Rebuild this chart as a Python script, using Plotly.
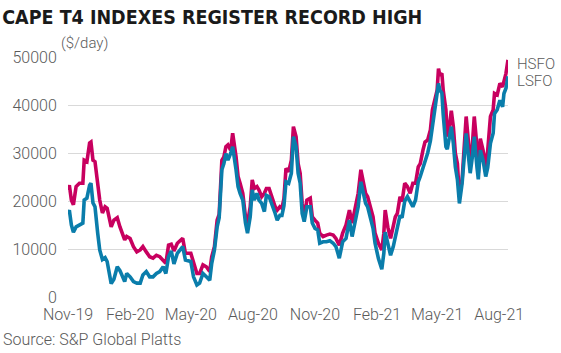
import plotly.graph_objects as go

# ---- data ----
dates = [
    "2019-11-01", "2019-11-03", "2019-11-06", "2019-11-09", "2019-11-13", "2019-11-18", "2019-11-23", "2019-11-25",
    "2019-11-29", "2019-12-03", "2019-12-05", "2019-12-08", "2019-12-11", "2019-12-15", "2019-12-18", "2019-12-22",
    "2019-12-26", "2019-12-29", "2020-01-02", "2020-01-04", "2020-01-08", "2020-01-13", "2020-01-17", "2020-01-21",
    "2020-01-24", "2020-01-27", "2020-02-01", "2020-02-06", "2020-02-11", "2020-02-16", "2020-02-20", "2020-02-25",
    "2020-03-01", "2020-03-06", "2020-03-11", "2020-03-16", "2020-03-21", "2020-03-25", "2020-03-29", "2020-04-02",
    "2020-04-06", "2020-04-11", "2020-04-19", "2020-04-23", "2020-05-01", "2020-05-05", "2020-05-10", "2020-05-14",
    "2020-05-19", "2020-05-24", "2020-05-29", "2020-06-01", "2020-06-05", "2020-06-09", "2020-06-12", "2020-06-16",
    "2020-06-19", "2020-06-22", "2020-06-25", "2020-06-29", "2020-07-02", "2020-07-07", "2020-07-10", "2020-07-13",
    "2020-07-17", "2020-07-21", "2020-07-24", "2020-07-28", "2020-07-31", "2020-08-03", "2020-08-07", "2020-08-10",
    "2020-08-14", "2020-08-18", "2020-08-21", "2020-08-25", "2020-08-29", "2020-09-03", "2020-09-06", "2020-09-10",
    "2020-09-13", "2020-09-16", "2020-09-19", "2020-09-23", "2020-09-27", "2020-09-30", "2020-10-04", "2020-10-07",
    "2020-10-10", "2020-10-13", "2020-10-16", "2020-10-20", "2020-10-25", "2020-10-28", "2020-11-01", "2020-11-05",
    "2020-11-08", "2020-11-13", "2020-11-18", "2020-11-23", "2020-11-28", "2020-12-02", "2020-12-07", "2020-12-12",
    "2020-12-17", "2020-12-22", "2020-12-26", "2020-12-31", "2021-01-04", "2021-01-08", "2021-01-12", "2021-01-15",
    "2021-01-18", "2021-01-22", "2021-01-26", "2021-01-29", "2021-02-03", "2021-02-08", "2021-02-11", "2021-02-13",
    "2021-02-17", "2021-02-21", "2021-02-25", "2021-02-28", "2021-03-03", "2021-03-07", "2021-03-10", "2021-03-14",
    "2021-03-18", "2021-03-22", "2021-03-26", "2021-03-30", "2021-04-03", "2021-04-06", "2021-04-10", "2021-04-13",
    "2021-04-17", "2021-04-21", "2021-04-24", "2021-04-28", "2021-05-01", "2021-05-03", "2021-05-05", "2021-05-08",
    "2021-05-10", "2021-05-14", "2021-05-16", "2021-05-20", "2021-05-22", "2021-05-25", "2021-05-28", "2021-05-31",
    "2021-06-03", "2021-06-07", "2021-06-10", "2021-06-13", "2021-06-17", "2021-06-19", "2021-06-22", "2021-06-25",
    "2021-06-29", "2021-07-01", "2021-07-04", "2021-07-08", "2021-07-12", "2021-07-15", "2021-07-19", "2021-07-23",
    "2021-07-25", "2021-07-29", "2021-08-02", "2021-08-06", "2021-08-08", "2021-08-11", "2021-08-14",
]

hsfo = [
    22300, 23300, 20200, 19200, 23000, 23700, 23700, 28500,
    28200, 32100, 32300, 28500, 28200, 23700, 20200, 17500,
    18800, 18500, 16000, 14600, 16000, 16500, 14600, 12900,
    11900, 12600, 12200, 10500, 9400, 9800, 10500, 9400,
    8400, 8100, 8700, 8400, 7700, 7000, 10800, 11000,
    9600, 11200, 12200, 9100, 9100, 7000, 4900, 4900,
    6700, 6300, 5300, 8400, 10500, 16000, 17200, 28500,
    29200, 31300, 31700, 30600, 34100, 29200, 25100, 23700,
    21600, 16700, 15400, 18800, 24400, 22600, 23000, 22300,
    20900, 21600, 22600, 22600, 20900, 18800, 18100, 18800,
    18500, 20500, 26800, 26100, 28500, 35500, 33400, 27800,
    25800, 19500, 16700, 20200, 20600, 16700, 16000, 15400,
    13300, 12600, 12900, 13100, 12900, 12200, 10800, 13300,
    15000, 18100, 15400, 18500, 21600, 26500, 23700, 21600,
    20900, 18800, 16700, 13300, 11200, 9800, 13300, 18100,
    14500, 12200, 14500, 16700, 17400, 20900, 19900, 23700,
    23000, 21600, 23700, 23700, 27100, 27800, 30600, 32300,
    32700, 34800, 39000, 41000, 43100, 47600, 46200, 46600,
    43100, 39000, 33400, 36500, 38800, 35500, 29900, 27800,
    20900, 24400, 31300, 37600, 31300, 27100, 31300, 37600,
    31300, 25800, 33000, 30600, 27100, 30600, 37600, 39000,
    42400, 42100, 44500, 43800, 44900, 46600, 49400,
]

lsfo = [
    17500, 18100, 15000, 13500, 14600, 15000, 15400, 20200,
    20600, 23300, 23700, 19600, 18800, 13300, 9800, 7800,
    8200, 7400, 4500, 2800, 3700, 6300, 5500, 4200,
    3200, 4900, 4200, 3200, 2900, 2900, 4600, 5300,
    4200, 4200, 4900, 5300, 6300, 4900, 8400, 9600,
    6900, 9100, 10500, 7700, 7400, 4200, 2500, 2900,
    4900, 4200, 3500, 7000, 9800, 14600, 16500, 26500,
    27800, 29900, 28500, 29900, 31300, 26500, 23000, 21600,
    20200, 15400, 13300, 16700, 22300, 20200, 21600, 20200,
    19500, 17800, 21200, 20900, 19500, 17400, 16000, 17000,
    17000, 19000, 24000, 23700, 25800, 33400, 31300, 25800,
    23700, 17400, 15700, 18800, 18800, 15400, 14300, 14000,
    11200, 11500, 11500, 11700, 11200, 10500, 8100, 11500,
    12200, 16000, 12600, 16000, 18800, 24000, 21600, 19500,
    18800, 16700, 14300, 11200, 8000, 5800, 9100, 13500,
    11200, 8700, 10500, 12600, 15000, 17000, 16500, 20000,
    20900, 19700, 18800, 20200, 24000, 25100, 26800, 28500,
    30000, 32500, 35500, 39000, 42000, 44500, 43100, 42500,
    38000, 31300, 30800, 33400, 35500, 32000, 27100, 24500,
    19500, 23700, 29200, 34100, 28500, 25800, 29000, 33400,
    27000, 24500, 30600, 28500, 25100, 27000, 32000, 34100,
    38200, 39000, 41000, 39600, 42400, 43500, 46000,
]

series_names = ["HSFO", "LSFO"]
tick_dates = ["2019-11-01", "2020-02-01", "2020-05-01", "2020-08-01",
              "2020-11-01", "2021-02-01", "2021-05-01", "2021-08-01"]
tick_labels = ["Nov-19", "Feb-20", "May-20", "Aug-20", "Nov-20", "Feb-21", "May-21", "Aug-21"]
y_ticks = [0, 10000, 20000, 30000, 40000, 50000]

# ---- styles ----
HSFO_COLOR = "#C8005F"
LSFO_COLOR = "#0A7DAB"
TEXT_COLOR = "#5a5a5a"
GRID_COLOR = "#d9d9d9"
BODY_FONT = "Roboto, 'Noto Sans', Arial, sans-serif"
TITLE_FONT = "'Liberation Sans Narrow', 'DejaVu Sans Condensed', 'Arial Narrow', sans-serif"

fig = go.Figure()
fig.add_trace(go.Scatter(x=dates, y=hsfo, mode="lines", name=series_names[0],
                         line=dict(color=HSFO_COLOR, width=3.6)))
fig.add_trace(go.Scatter(x=dates, y=lsfo, mode="lines", name=series_names[1],
                         line=dict(color=LSFO_COLOR, width=3.6)))

fig.update_layout(
    width=561, height=353,
    margin=dict(l=60, r=53, t=57, b=56),
    paper_bgcolor="white", plot_bgcolor="white",
    showlegend=False,
    font=dict(family=BODY_FONT, size=16, color=TEXT_COLOR, weight=300),
    title=dict(text="<b>CAPE T4 INDEXES REGISTER RECORD HIGH</b>",
               x=0.004, xref="container", xanchor="left",
               y=0.95, yref="container", yanchor="middle",
               font=dict(family=TITLE_FONT, size=19.5, color="#1a1a1a")),
)

fig.update_xaxes(
    type="date", range=["2019-11-01", "2021-08-14"],
    tickvals=tick_dates, ticktext=tick_labels,
    showgrid=False, zeroline=False, showline=False,
    ticks="outside", ticklen=3, tickcolor="rgba(0,0,0,0)",
    tickfont=dict(size=16, color=TEXT_COLOR, weight=300),
)
fig.update_yaxes(
    range=[0, 50000], tickvals=y_ticks,
    tickformat="d",
    showgrid=True, gridcolor=GRID_COLOR, gridwidth=1,
    zeroline=False, showline=False,
    ticks="outside", ticklen=7, tickcolor="rgba(0,0,0,0)",
    tickfont=dict(size=16, color=TEXT_COLOR, weight=300),
)

label_font = dict(size=15, color=TEXT_COLOR, weight=300)
annotations = [
    dict(text="($/day)", xref="paper", yref="paper", x=-0.02, y=1.058,
         xanchor="left", yanchor="middle", showarrow=False, font=label_font),
    dict(text="HSFO", xref="paper", yref="paper", x=1.016, y=0.972,
         xanchor="left", yanchor="middle", showarrow=False, font=label_font),
    dict(text="LSFO", xref="paper", yref="paper", x=1.016, y=0.9,
         xanchor="left", yanchor="middle", showarrow=False, font=label_font),
    dict(text="Source: S&P Global Platts", xref="paper", yref="paper",
         x=-0.152, y=-0.178, xanchor="left", yanchor="middle", showarrow=False,
         font=dict(size=16, color=TEXT_COLOR, weight=300)),
]
fig.update_layout(annotations=annotations)

fig.write_html("out.html")
